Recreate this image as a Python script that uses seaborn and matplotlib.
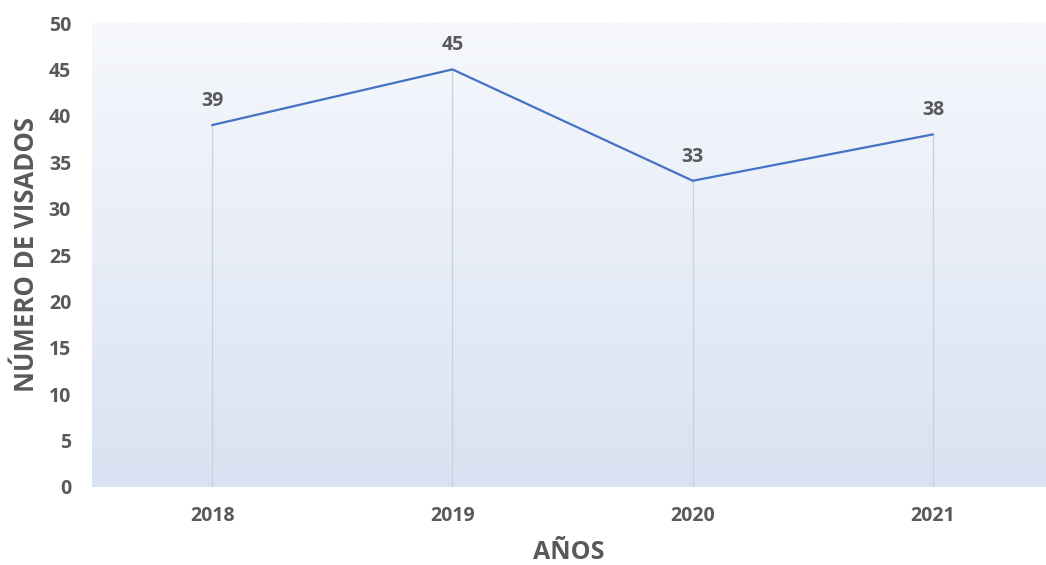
import numpy as np
import pandas as pd
import matplotlib
matplotlib.use("Agg")
import matplotlib.pyplot as plt
from matplotlib.colors import LinearSegmentedColormap
import seaborn as sns

years = ["2018", "2019", "2020", "2021"]
visados = [39, 45, 33, 38]

df = pd.DataFrame({"year": years, "visados": visados})

sns.set_style("white")
plt.rcParams['font.family'] = ['Open Sans', 'DejaVu Sans']

fig = plt.figure(figsize=(10.46, 5.65), dpi=100)
ax = fig.add_axes([92 / 1046, 1 - 487 / 565, 1 - 92 / 1046, (487 - 23) / 565])

# gradient background
grad = LinearSegmentedColormap.from_list("bg", ["#d9e2f2", "#f6f8fc"])
ax.imshow(np.linspace(0, 1, 256).reshape(-1, 1), cmap=grad, origin="lower",
          extent=[-0.5, 3.5, 0, 50], aspect="auto", zorder=0)

# drop lines
ax.vlines(range(len(years)), 0, visados, color="#c9d1de", linewidth=0.9, zorder=1)

sns.lineplot(data=df, x="year", y="visados", color="#4472c4", linewidth=1.6,
             sort=False, ax=ax, zorder=3)

for i, v in enumerate(visados):
    ax.text(i, v + 1.5, str(v), ha="center", va="bottom", fontsize=14,
            fontweight="bold", color="#595959")

ax.set_xlim(-0.5, 3.47)
ax.set_ylim(0, 50)
ax.set_yticks(range(0, 51, 5))
ax.set_xticks(range(len(years)))
ax.set_xticklabels(years)
for s in ax.spines.values():
    s.set_visible(False)
ax.tick_params(axis="both", length=0, labelsize=14, colors="#595959")
ax.tick_params(axis="x", pad=14)
ax.tick_params(axis="y", pad=15)
for lbl in ax.get_xticklabels() + ax.get_yticklabels():
    lbl.set_fontweight("bold")

ax.set_xlabel("AÑOS", fontsize=18, fontweight="bold", color="#595959", labelpad=10)
ax.set_ylabel("NÚMERO DE VISADOS", fontsize=18.5, fontweight="bold", color="#595959", labelpad=6)

fig.savefig("out.png", dpi=100)
